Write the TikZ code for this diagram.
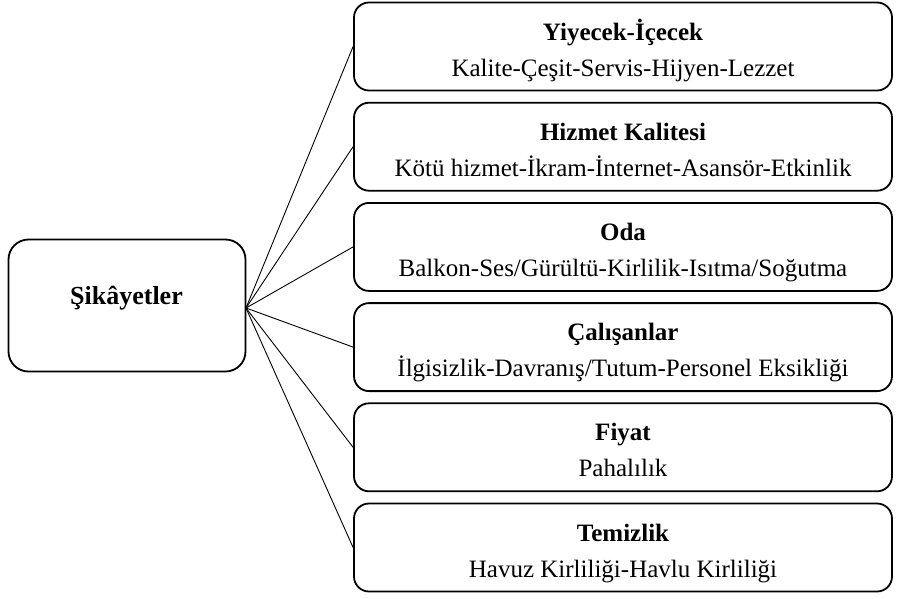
\documentclass[tikz,border=0pt]{standalone}
\usepackage{fontspec}
\setmainfont{Liberation Serif}
\begin{document}
\begin{tikzpicture}[x=1pt,y=-1pt,
  catbox/.style={draw, line width=1.8pt, rounded corners=15pt, minimum width=538pt, minimum height=88pt, inner sep=0pt},
  rootbox/.style={draw, line width=1.8pt, rounded corners=20pt, minimum width=237pt, minimum height=132pt, inner sep=0pt},
  ttl/.style={anchor=base, font=\fontsize{25}{30}\selectfont\bfseries, inner sep=0pt},
  dsc/.style={anchor=base, font=\fontsize{25}{30}\selectfont, inner sep=0pt},
  link/.style={line width=0.9pt}]
\useasboundingbox (0,0) rectangle (899,598);
\node[rootbox] (root) at (127,305.5) {};
\node[ttl, font=\fontsize{26}{30}\selectfont\bfseries] (rootlbl) at (126.5,304) {Şikâyetler};
\coordinate (hub) at (246,308);
\foreach \i/\t/\d in {
  1/Yiyecek-İçecek/Kalite-Çeşit-Servis-Hijyen-Lezzet,
  2/Hizmet Kalitesi/Kötü hizmet-İkram-İnternet-Asansör-Etkinlik,
  3/Oda/Balkon-Ses\slash Gürültü-Kirlilik-Isıtma\slash Soğutma,
  4/Çalışanlar/İlgisizlik-Davranış\slash Tutum-Personel Eksikliği,
  5/Fiyat/Pahalılık,
  6/Temizlik/Havuz Kirliliği-Havlu Kirliliği}{
  \pgfmathsetmacro{\cy}{46.5+100.2*(\i-1)}
  \node[catbox] (b\i) at (623,\cy) {};
  \node[ttl] (t\i) at (623,\cy-6.5) {\t};
  \node[dsc] (d\i) at (623,\cy+29.5) {\d};
  \draw[link] (hub) -- (b\i.west);
}
\end{tikzpicture}
\end{document}
